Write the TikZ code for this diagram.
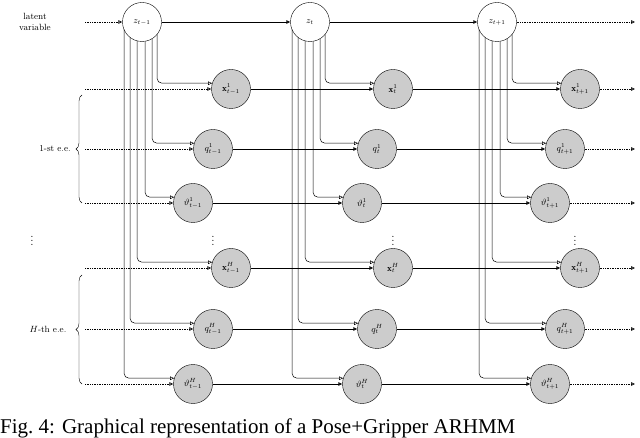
\documentclass[tikz,border=0pt]{standalone}
\usepackage{fontspec}
\newfontfamily\capfont{Liberation Serif}
\usetikzlibrary{arrows.meta,decorations.pathreplacing}
\begin{document}
\begin{tikzpicture}[x=1pt,y=-1pt,
  obs/.style={circle,draw,fill=gray!40,minimum size=39pt,inner sep=0pt,font=\small},
  lat/.style={circle,draw,fill=white,minimum size=39pt,inner sep=0pt,font=\small},
  tip/.style={-{Triangle[open,length=4pt,width=3.5pt]}},
  trans/.style={tip,line width=0.9pt},
  inp/.style={tip,densely dotted,line width=0.7pt},
  lab/.style={font=\small,align=center}]
\useasboundingbox (0,0) rectangle (640,438);
\begin{scope}
\clip (0,0) rectangle (640,438);
\node[font=\capfont\fontsize{21}{24}\selectfont,anchor=north west,inner sep=0pt] (cap) at (0,419) {Fig.~4: Graphical representation of a Pose+Gripper ARHMM};
\end{scope}
% latent
\node[lat] (z1) at (142,22) {$z_{t-1}$};
\node[lat] (z2) at (310,22) {$z_{t}$};
\node[lat] (z3) at (497,22) {$z_{t+1}$};
\coordinate (zin) at (85,22);
\coordinate (zout) at (635,22);
\draw[inp] (zin) -- (z1);
\draw[trans] (z1) -- (z2);
\draw[trans] (z2) -- (z3);
\draw[inp] (z3) -- (zout);
% observed nodes
\foreach \r/\y/\xa/\xb/\xc/\sym/\sup/\dx in {
  a/89/231/393/580/\mathbf{x}/1/15,
  b/149/213/377/565/q/1/10,
  c/203/193/362/550/\vartheta/1/3,
  d/268/231/393/580/\mathbf{x}/H/-5,
  e/329/213/377/565/q/H/-12,
  f/384/193/362/550/\vartheta/H/-18}{
  \node[obs] (\r1) at (\xa,\y) {$\sym^{\sup}_{t-1}$};
  \node[obs] (\r2) at (\xb,\y) {$\sym^{\sup}_{t}$};
  \node[obs] (\r3) at (\xc,\y) {$\sym^{\sup}_{t+1}$};
  \coordinate (\r in) at (85,\y);
  \coordinate (\r out) at (635,\y);
  \draw[inp] (\r in) -- (\r1);
  \draw[trans] (\r1) -- (\r2);
  \draw[trans] (\r2) -- (\r3);
  \draw[inp] (\r3) -- (\r out);
  \foreach \k in {1,2,3}{
    \pgfmathsetmacro{\dy}{sqrt(380-\dx*\dx)}
    \draw[tip,rounded corners=5pt,line width=0.5pt] ([shift={(\dx,\dy)}]z\k.center) |- (\r\k.163);
  }
}
% dots
\foreach \xx in {32,213,393,575}{
  \node[font=\large,inner sep=0pt] at (\xx,238) {$\vdots$};
}
% labels
\node[lab] (l0) at (35,22) {latent\\variable};
\node[lab] (l1) at (55,149) {1-st e.e.};
\node[lab] (l2) at (48,329) {$H$-th e.e.};
\draw[decorate,decoration={brace,amplitude=6pt}] (82,203) -- (82,95);
\draw[decorate,decoration={brace,amplitude=6pt}] (82,384) -- (82,275);
\end{tikzpicture}
\end{document}
